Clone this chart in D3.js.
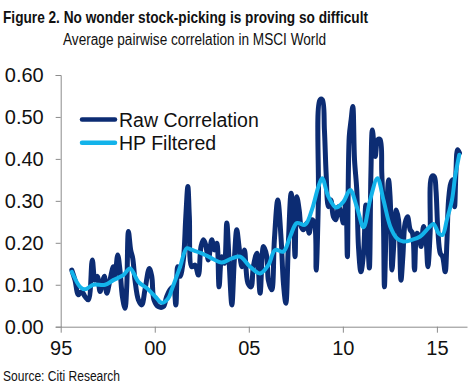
<!DOCTYPE html>
<html>
<head>
<meta charset="utf-8">
<script src="https://cdn.jsdelivr.net/npm/d3@7"></script>
<style>
	html, body { margin: 0; padding: 0; background: #fff; }
	svg { display: block; }
</style>
</head>
<body>
<svg id="chart" width="473" height="385"></svg>
<script>

// decimal years and values
var rawYears = [1995.59, 1995.76, 1995.94, 1996.12, 1996.29, 1996.47, 1996.68, 1996.82, 1996.95, 1997.09, 1997.21, 1997.32, 1997.45, 1997.62, 1997.80, 1997.89, 1998.03, 1998.15, 1998.28, 1998.42, 1998.51, 1998.60, 1998.72, 1998.83, 1998.95, 1999.13, 1999.31, 1999.48, 1999.71, 1999.84, 1999.96, 2000.19, 2000.46, 2000.62, 2000.81, 2000.99, 2001.12, 2001.22, 2001.35, 2001.52, 2001.65, 2001.76, 2001.84, 2001.97, 2002.14, 2002.32, 2002.46, 2002.59, 2002.71, 2002.85, 2003.03, 2003.17, 2003.30, 2003.42, 2003.56, 2003.70, 2003.83, 2003.95, 2004.10, 2004.23, 2004.36, 2004.48, 2004.63, 2004.77, 2004.95, 2005.12, 2005.24, 2005.43, 2005.60, 2005.78, 2005.96, 2006.04, 2006.22, 2006.36, 2006.54, 2006.72, 2006.84, 2006.97, 2007.11, 2007.25, 2007.37, 2007.46, 2007.55, 2007.68, 2007.78, 2007.90, 2008.09, 2008.21, 2008.35, 2008.49, 2008.58, 2008.70, 2008.79, 2008.91, 2009.02, 2009.11, 2009.23, 2009.36, 2009.50, 2009.63, 2009.77, 2009.91, 2010.03, 2010.16, 2010.24, 2010.34, 2010.44, 2010.53, 2010.62, 2010.74, 2010.83, 2010.96, 2011.10, 2011.22, 2011.33, 2011.41, 2011.49, 2011.57, 2011.72, 2011.86, 2011.98, 2012.07, 2012.16, 2012.21, 2012.30, 2012.43, 2012.52, 2012.61, 2012.69, 2012.84, 2012.96, 2013.09, 2013.19, 2013.31, 2013.44, 2013.58, 2013.70, 2013.81, 2013.94, 2014.06, 2014.16, 2014.29, 2014.41, 2014.52, 2014.64, 2014.73, 2014.86, 2014.95, 2015.05, 2015.18, 2015.30, 2015.44, 2015.53, 2015.62, 2015.74, 2015.85, 2015.94, 2016.01, 2016.10, 2016.20];
var rawValues = [0.135, 0.111, 0.076, 0.084, 0.072, 0.064, 0.159, 0.111, 0.120, 0.084, 0.104, 0.120, 0.080, 0.111, 0.143, 0.120, 0.171, 0.135, 0.072, 0.044, 0.095, 0.227, 0.183, 0.163, 0.111, 0.064, 0.052, 0.088, 0.139, 0.120, 0.064, 0.048, 0.048, 0.070, 0.088, 0.095, 0.052, 0.143, 0.120, 0.159, 0.262, 0.334, 0.262, 0.143, 0.147, 0.123, 0.191, 0.207, 0.195, 0.159, 0.207, 0.183, 0.199, 0.095, 0.167, 0.151, 0.247, 0.159, 0.052, 0.159, 0.231, 0.191, 0.143, 0.183, 0.104, 0.095, 0.143, 0.175, 0.080, 0.191, 0.167, 0.111, 0.088, 0.207, 0.302, 0.207, 0.104, 0.056, 0.207, 0.318, 0.262, 0.167, 0.310, 0.278, 0.239, 0.231, 0.247, 0.223, 0.255, 0.247, 0.135, 0.302, 0.541, 0.541, 0.469, 0.366, 0.286, 0.302, 0.262, 0.255, 0.286, 0.270, 0.247, 0.302, 0.167, 0.453, 0.493, 0.525, 0.398, 0.326, 0.191, 0.131, 0.175, 0.290, 0.200, 0.140, 0.360, 0.469, 0.406, 0.446, 0.446, 0.366, 0.247, 0.095, 0.231, 0.350, 0.302, 0.135, 0.183, 0.278, 0.255, 0.111, 0.167, 0.247, 0.262, 0.231, 0.223, 0.135, 0.223, 0.215, 0.191, 0.239, 0.215, 0.143, 0.223, 0.358, 0.358, 0.326, 0.231, 0.175, 0.167, 0.131, 0.199, 0.302, 0.342, 0.350, 0.286, 0.366, 0.422, 0.414];

var hpYears = [1995.59, 1996.03, 1996.29, 1996.73, 1997.36, 1997.80, 1998.33, 1998.69, 1999.13, 1999.57, 2000.02, 2000.37, 2000.72, 2000.90, 2001.35, 2001.70, 2001.97, 2002.50, 2003.03, 2003.56, 2004.10, 2004.54, 2005.07, 2005.60, 2006.04, 2006.40, 2006.84, 2007.20, 2007.55, 2007.99, 2008.35, 2008.70, 2008.90, 2009.23, 2009.64, 2010.03, 2010.39, 2010.74, 2011.10, 2011.45, 2011.84, 2012.16, 2012.52, 2012.87, 2013.22, 2013.67, 2014.11, 2014.55, 2014.82, 2015.09, 2015.30, 2015.53, 2015.80, 2015.97, 2016.19];
var hpValues = [0.131, 0.095, 0.089, 0.100, 0.100, 0.111, 0.123, 0.139, 0.107, 0.092, 0.072, 0.057, 0.068, 0.088, 0.143, 0.187, 0.183, 0.175, 0.163, 0.153, 0.163, 0.167, 0.143, 0.127, 0.147, 0.183, 0.179, 0.215, 0.247, 0.243, 0.278, 0.334, 0.354, 0.310, 0.284, 0.298, 0.326, 0.286, 0.237, 0.302, 0.354, 0.302, 0.239, 0.211, 0.203, 0.207, 0.215, 0.235, 0.245, 0.223, 0.219, 0.255, 0.302, 0.358, 0.410];

var yTicks = [0, 0.1, 0.2, 0.3, 0.4, 0.5, 0.6];
var xTicks = [1995, 2000, 2005, 2010, 2015];
var xLabels = ['95', '00', '05', '10', '15'];
var seriesNames = ['Raw Correlation', 'HP Filtered'];

var navy = '#0c2c73';
var cyan = '#13b3ea';
var grey = '#8c8c8c';
var fontFamily = 'Liberation Sans, Arial, sans-serif';
var narrowFamily = 'Liberation Sans Narrow, Arial Narrow, Liberation Sans, sans-serif';

var svg = d3.select('#chart');

var x = d3.scaleLinear().domain([1995, 2016.6]).range([60.7, 467]);
var y = d3.scaleLinear().domain([0, 0.6]).range([326.7, 75]);

// titles
svg.append('text')
	.attr('x', 3).attr('y', 23)
	.attr('font-family', narrowFamily).attr('font-size', 17).attr('font-weight', 'bold')
	.attr('fill', '#111')
	.attr('textLength', 365).attr('lengthAdjust', 'spacingAndGlyphs')
	.text('Figure 2. No wonder stock-picking is proving so difficult');

svg.append('text')
	.attr('x', 63).attr('y', 45)
	.attr('font-family', narrowFamily).attr('font-size', 16)
	.attr('fill', '#111')
	.attr('textLength', 263).attr('lengthAdjust', 'spacingAndGlyphs')
	.text('Average pairwise correlation in MSCI World');

svg.append('text')
	.attr('x', 3).attr('y', 381)
	.attr('font-family', narrowFamily).attr('font-size', 14)
	.attr('fill', '#111')
	.attr('textLength', 117).attr('lengthAdjust', 'spacingAndGlyphs')
	.text('Source: Citi Research');

// axes
var yAxis = d3.axisLeft(y).tickValues(yTicks).tickSize(5).tickPadding(10).tickFormat(d3.format('.2f'));
var gy = svg.append('g').attr('transform', 'translate(60.7,0)').call(yAxis);
gy.select('.domain').attr('stroke', grey);
gy.selectAll('.tick line').attr('stroke', grey);
gy.selectAll('.tick text').attr('font-family', fontFamily).attr('font-size', 20).attr('fill', '#111').attr('x', -17);

var xAxis = d3.axisBottom(x).tickValues(xTicks).tickSize(6).tickSizeOuter(0).tickPadding(8)
	.tickFormat(function(d, i) { return xLabels[i]; });
var gx = svg.append('g').attr('transform', 'translate(0,326.7)').call(xAxis);
gx.select('.domain').attr('stroke', grey);
gx.selectAll('.tick line').attr('stroke', grey);
gx.selectAll('.tick text').attr('font-family', fontFamily).attr('font-size', 20).attr('fill', '#111');

// lines
var line = d3.line()
	.x(function(d) { return x(d[0]); })
	.y(function(d) { return y(d[1]); })
	.curve(d3.curveCatmullRom.alpha(0.5));

var raw = d3.zip(rawYears, rawValues);
var hp = d3.zip(hpYears, hpValues);

svg.append('path').datum(raw)
	.attr('d', line)
	.attr('fill', 'none').attr('stroke', navy).attr('stroke-width', 5)
	.attr('stroke-linejoin', 'round').attr('stroke-linecap', 'round');

svg.append('path').datum(hp)
	.attr('d', line)
	.attr('fill', 'none').attr('stroke', cyan).attr('stroke-width', 4)
	.attr('stroke-linejoin', 'round').attr('stroke-linecap', 'round');

// legend
var legend = svg.append('g');
var colors = [navy, cyan];
seriesNames.forEach(function(name, i) {
	var ly = 119.5 + i * 23.3;
	legend.append('line')
		.attr('x1', 82).attr('x2', 115).attr('y1', ly).attr('y2', ly)
		.attr('stroke', colors[i]).attr('stroke-width', 4.5).attr('stroke-linecap', 'round');
	legend.append('text')
		.attr('x', 119).attr('y', ly + 7)
		.attr('font-family', fontFamily).attr('font-size', 19.5)
		.attr('fill', '#111')
		.text(name);
});

</script>
</body>
</html>
